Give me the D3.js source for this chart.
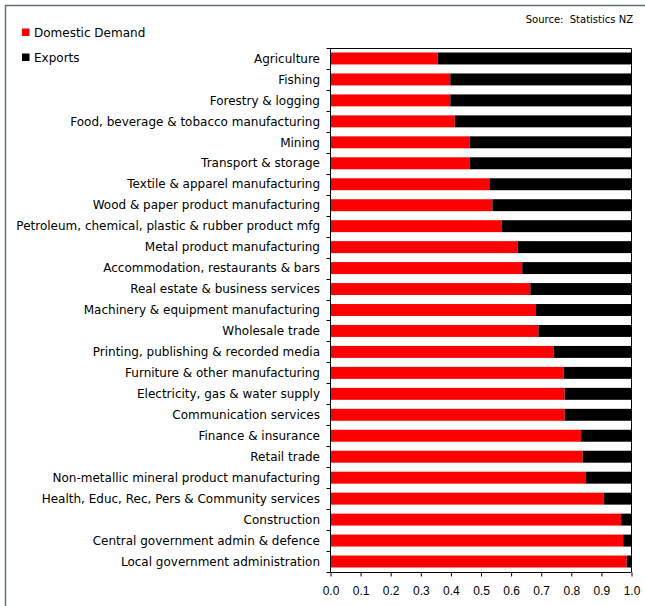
<!DOCTYPE html>
<html>
<head>
<meta charset="utf-8">
<script src="https://cdn.jsdelivr.net/npm/d3@7"></script>
<style>
  body { margin: 0; background: #fff; }
  svg { display: block; font-family: "DejaVu Sans", Verdana, sans-serif; }
</style>
</head>
<body>
<svg id="chart" width="645" height="606"></svg>
<script>
// industries, top to bottom
const industries = [
  'Agriculture',
  'Fishing',
  'Forestry & logging',
  'Food, beverage & tobacco manufacturing',
  'Mining',
  'Transport & storage',
  'Textile & apparel manufacturing',
  'Wood & paper product manufacturing',
  'Petroleum, chemical, plastic & rubber product mfg',
  'Metal product manufacturing',
  'Accommodation, restaurants & bars',
  'Real estate & business services',
  'Machinery & equipment manufacturing',
  'Wholesale trade',
  'Printing, publishing & recorded media',
  'Furniture & other manufacturing',
  'Electricity, gas & water supply',
  'Communication services',
  'Finance & insurance',
  'Retail trade',
  'Non-metallic mineral product manufacturing',
  'Health, Educ, Rec, Pers & Community services',
  'Construction',
  'Central government admin & defence',
  'Local government administration'
];

// share of output going to domestic demand (rest is exports)
const domestic = [
  0.356, 0.398, 0.398, 0.413, 0.463, 0.463, 0.528, 0.538, 0.568, 0.622,
  0.637, 0.664, 0.683, 0.691, 0.741, 0.775, 0.778, 0.778, 0.832, 0.838,
  0.849, 0.907, 0.965, 0.972, 0.984
];
const exportsShare = domestic.map(d => 1 - d);

const seriesNames = ['Domestic Demand', 'Exports'];
const seriesColors = ['#ff0000', '#000000'];
const xTicks = [0, 0.1, 0.2, 0.3, 0.4, 0.5, 0.6, 0.7, 0.8, 0.9, 1.0];

const svg = d3.select('#chart');
const margin = {top: 48, right: 14, bottom: 34, left: 330};
const W = 645, H = 606;

// outer frame (extends past the right / bottom edge of the picture)
svg.append('rect')
  .attr('x', 5.5).attr('y', 5.5)
  .attr('width', 700).attr('height', 700)
  .attr('fill', 'none')
  .attr('stroke', '#5d707c')
  .attr('stroke-width', 1.5);

// title, cut off at the top edge like the source
svg.append('text')
  .attr('x', -6).attr('y', -3)
  .attr('font-weight', 'bold')
  .attr('font-size', 15)
  .attr('fill', '#333')
  .text('Figure 5: Domestic demand and export shares, by industry');

svg.append('text')
  .attr('x', 633).attr('y', 23)
  .attr('text-anchor', 'end')
  .attr('font-size', 10)
  .attr('fill', '#000')
  .attr('xml:space', 'preserve')
  .style('white-space', 'pre')
  .text('Source:  Statistics NZ');

// legend
const legend = svg.append('g');
seriesNames.forEach((name, i) => {
  const g = legend.append('g').attr('transform', `translate(22, ${37 + i * 25})`);
  g.append('rect').attr('x', 0).attr('y', -8.5).attr('width', 7.5).attr('height', 7.5)
    .attr('fill', seriesColors[i]);
  g.append('text').attr('x', 12).attr('y', 0).attr('font-size', 12).text(name);
});

const x = d3.scaleLinear().domain([0, 1]).range([margin.left + 0.5, W - margin.right + 0.5]);
const y = d3.scaleBand().domain(industries).range([margin.top, H - margin.bottom]).paddingInner(0.43).paddingOuter(0.215);

const rows = industries.map((name, i) => ({name, dom: domestic[i], exp: exportsShare[i]}));

const bars = svg.append('g');
bars.selectAll('.dom')
  .data(rows)
  .enter()
  .append('rect')
  .attr('class', 'dom')
  .attr('x', x(0))
  .attr('y', d => y(d.name))
  .attr('width', d => x(d.dom) - x(0))
  .attr('height', y.bandwidth())
  .attr('fill', seriesColors[0]);

bars.selectAll('.exp')
  .data(rows)
  .enter()
  .append('rect')
  .attr('class', 'exp')
  .attr('x', d => x(d.dom))
  .attr('y', d => y(d.name))
  .attr('width', d => x(d.dom + d.exp) - x(d.dom))
  .attr('height', y.bandwidth())
  .attr('fill', seriesColors[1]);

// plot frame top / right
svg.append('path')
  .attr('d', `M${x(0)},${margin.top + 0.5}H${x(1)}V${H - margin.bottom}`)
  .attr('fill', 'none').attr('stroke', '#000').attr('stroke-width', 1);

// x axis
const xAxis = svg.append('g')
  .attr('transform', `translate(0, ${H - margin.bottom + 0.5})`)
  .call(d3.axisBottom(x).tickValues(xTicks).tickFormat(d3.format('.1f')).tickSize(4).tickPadding(10));
xAxis.select('.domain').attr('d', `M${x(0)},0H${x(1)}`);
xAxis.selectAll('text').attr('font-size', 12).attr('font-family', null).attr('fill', '#000');

// y axis: ticks sit between bars
const yAxis = svg.append('g').attr('transform', `translate(${x(0)}, 0)`);
yAxis.append('line')
  .attr('y1', margin.top).attr('y2', H - margin.bottom)
  .attr('stroke', '#000');
const step = y.step();
const edges = d3.range(industries.length + 1).map(i => margin.top + i * step);
yAxis.selectAll('.ytick')
  .data(edges)
  .enter()
  .append('line')
  .attr('x1', -4).attr('x2', 0)
  .attr('y1', d => Math.round(d) + 0.5).attr('y2', d => Math.round(d) + 0.5)
  .attr('stroke', '#000');

svg.append('g').selectAll('.ylabel')
  .data(industries)
  .enter()
  .append('text')
  .attr('x', 320)
  .attr('y', d => y(d) + y.bandwidth() / 2)
  .attr('dy', '0.35em')
  .attr('text-anchor', 'end')
  .attr('font-size', 12)
  .text(d => d);
</script>
</body>
</html>
